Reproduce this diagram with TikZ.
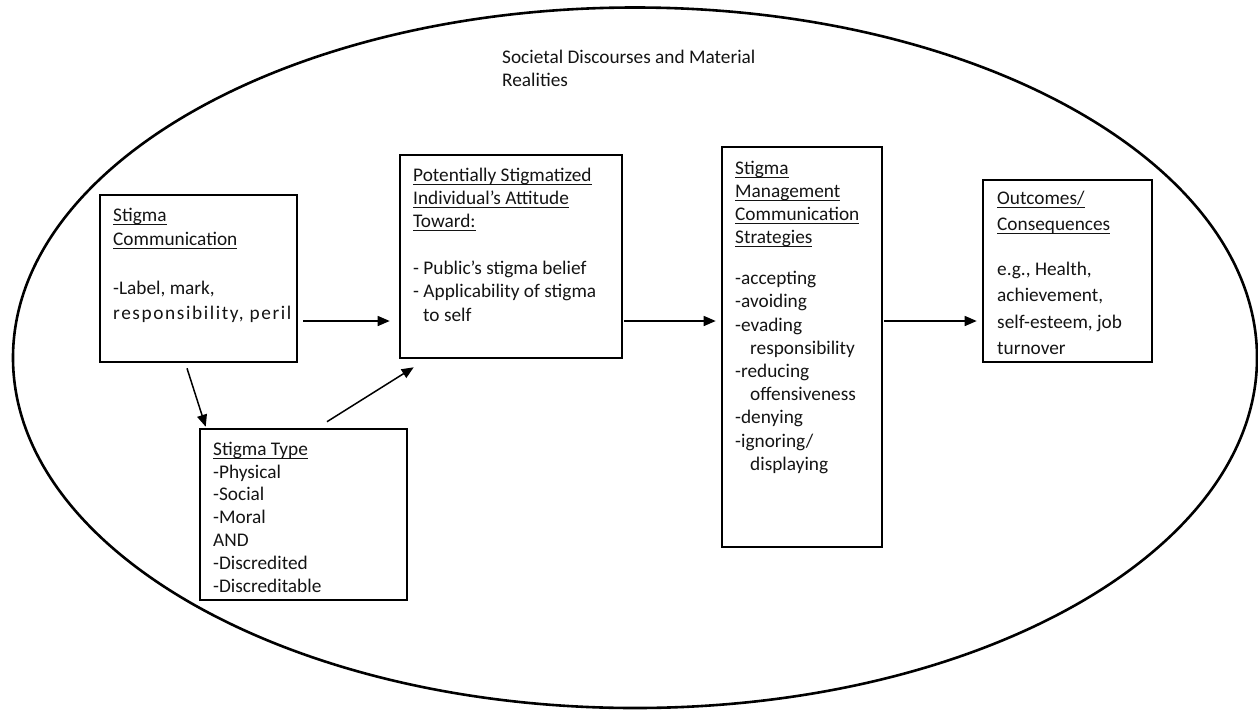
\documentclass[tikz,border=0pt]{standalone}
\usepackage{fontspec}
\setmainfont{Carlito}
\usetikzlibrary{arrows.meta,shapes.geometric}
\newcommand\ulx[1]{\leavevmode\setbox0\hbox{#1}\rlap{\rule[-3.6pt]{\wd0}{1.2pt}}\box0}
\newcommand\fl{\rule{0pt}{16pt}}
\definecolor{ink}{RGB}{20,20,20}
\begin{document}
\begin{tikzpicture}[x=1pt,y=-1pt,
  box/.style={draw=black,line width=2.6pt,inner sep=0pt},
  txt/.style={anchor=north west,inner sep=0pt,align=left,text=ink,
    font=\fontsize{19.3pt}{#1}\selectfont},
  txt/.default={23.3pt},
  arr/.style={line width=1.5pt,-{Triangle[length=12pt,width=10pt]}}]
\useasboundingbox (0,0) rectangle (1258,710);
% enclosing ellipse
\node[draw=black,line width=2.6pt,ellipse,inner sep=0pt,minimum width=1244pt,minimum height=700.5pt] (env) at (635,357.75) {};
\node[txt] (title) at (502,47) {\fl Societal Discourses and Material\\Realities};
% boxes
\node[box,minimum width=197pt,minimum height=167pt] (sc) at (198.5,278.5) {};
\node[box,minimum width=207pt,minimum height=171pt] (st) at (303.5,514.5) {};
\node[box,minimum width=222pt,minimum height=203pt] (att) at (511,256.5) {};
\node[box,minimum width=160pt,minimum height=400pt] (sm) at (802,347) {};
\node[box,minimum width=169pt,minimum height=182pt] (out) at (1067.5,271) {};
% texts
\node[txt=24.5pt] (sct) at (113,205) {\fl\ulx{Stigma}\\\ulx{Communication}\\[24.5pt]-Label, mark,\\{\addfontfeatures{LetterSpace=8.3}responsibility, peril}};
\node[txt=22.8pt] (stt) at (213,439) {\fl\ulx{Stigma Type}\\-Physical\\-Social\\-Moral\\AND\\-Discredited\\-Discreditable};
\node[txt] (attt) at (413,165) {\fl\ulx{Potentially Stigmatized}\\\ulx{Individual’s Attitude}\\\ulx{Toward:}\\[23.3pt]- Public’s stigma belief\\- Applicability of stigma\\\hspace*{10pt}to self};
\node[txt=23.2pt] (smt) at (735,158) {\fl\ulx{Stigma}\\\ulx{Management}\\\ulx{Communication}\\\ulx{Strategies}\\[17.7pt]-accepting\\-avoiding\\-evading\\\hspace*{15pt}responsibility\\-reducing\\\hspace*{15pt}offensiveness\\-denying\\-ignoring/\\\hspace*{15pt}displaying};
\node[txt=26.5pt] (outt) at (997,188) {\fl\ulx{Outcomes/}\\\ulx{Consequences}\\[18pt]e.g., Health,\\achievement,\\self-esteem, job\\turnover};
% connectors
\draw[arr] ([shift={(5,42.5)}]sc.east) -- ([shift={(-9,64.5)}]att.west);
\draw[arr] ([shift={(-11.5,5)}]sc.south) -- ([shift={(7,-1)}]st.north west);
\draw[arr] ([shift={(23.5,-6)}]st.north) -- ([shift={(15,8)}]att.south west);
\draw[arr] ([shift={(1,64.5)}]att.east) -- ([shift={(-5,-26)}]sm.west);
\draw[arr] ([shift={(1,-26)}]sm.east) -- ([shift={(-5,50)}]out.west);
\end{tikzpicture}
\end{document}
